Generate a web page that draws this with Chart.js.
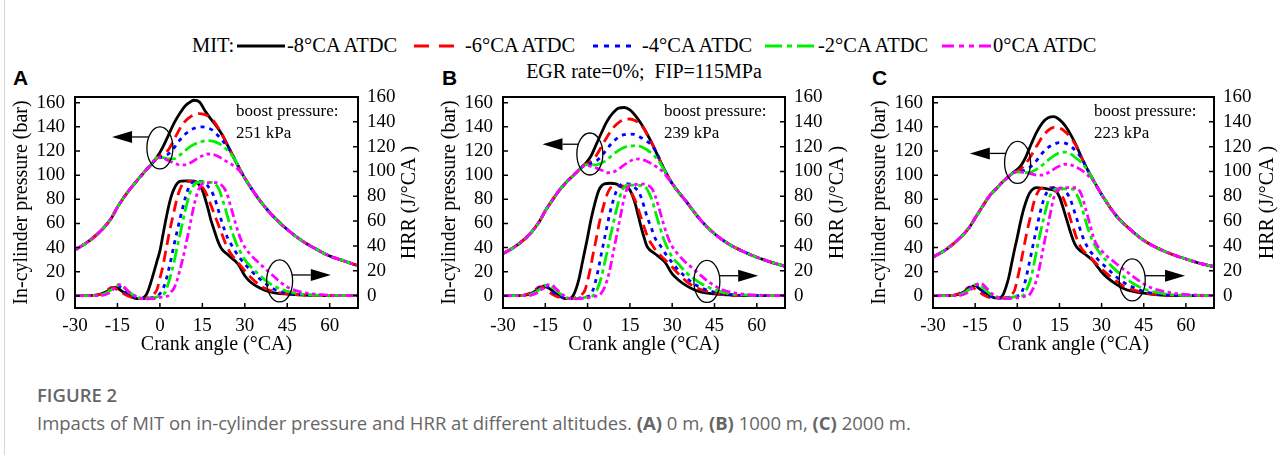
<!DOCTYPE html>
<html>
<head>
<meta charset="utf-8">
<title>Figure 2</title>
<script src="https://cdn.jsdelivr.net/npm/chart.js@4.4.1/dist/chart.umd.min.js"></script>
<style>
  body { margin: 0; background: #fff; }
  #page { position: relative; width: 1287px; height: 455px; overflow: hidden; font-family: 'Liberation Serif', 'Times New Roman', serif; color: #000; }
  .edge { position: absolute; left: 4px; top: 0; width: 1px; height: 455px; background: #d6d6d6; }
  .lg { position: absolute; top: 33px; font-size: 20.5px; line-height: 24px; white-space: nowrap; }
  .lgline { position: absolute; top: 43px; }
  .letter { position: absolute; top: 66px; font: bold 21px 'Liberation Sans', Arial, sans-serif; }
  .egr { position: absolute; left: 644px; top: 60px; transform: translateX(-50%); font-size: 20px; white-space: pre; }
  canvas { position: absolute; top: 88px; }
  .cap-title { position: absolute; left: 37px; top: 382px; font: 600 18.5px 'Open Sans', sans-serif; color: #666; }
  .cap-text { position: absolute; left: 37px; top: 410px; font: 18.5px 'Open Sans', sans-serif; color: #666; white-space: nowrap; }
</style>
</head>
<body>
<div id="page">
  <div class="edge"></div>
  <div id="legend"></div>
  <div class="letter" style="left:13px">A</div>
  <div class="letter" style="left:442px">B</div>
  <div class="letter" style="left:872px">C</div>
  <div class="egr">EGR rate=0%;  FIP=115MPa</div>
  <canvas id="cA" width="430" height="272" style="left:0px"></canvas>
  <canvas id="cB" width="430" height="272" style="left:428px"></canvas>
  <canvas id="cC" width="430" height="272" style="left:858px"></canvas>
  <div class="cap-title">FIGURE 2</div>
  <div class="cap-text">Impacts of MIT on in-cylinder pressure and HRR at different altitudes. <b>(A)</b> 0 m, <b>(B)</b> 1000 m, <b>(C)</b> 2000 m.</div>
</div>
<script>
// оси и подписи
const crankTicks = [-30, -15, 0, 15, 30, 45, 60];
const pressTicks = [0, 20, 40, 60, 80, 100, 120, 140, 160];
const hrrTicks = [0, 20, 40, 60, 80, 100, 120, 140, 160];
const mitLabels = ['-8°CA ATDC', '-6°CA ATDC', '-4°CA ATDC', '-2°CA ATDC', '0°CA ATDC'];
const boostLabels = ['251 kPa', '239 kPa', '223 kPa'];

// давление, панель A (0 м): общий участок сжатия, участки сгорания, общий хвост расширения
const riseA = [[-30,38],[-25,45.5],[-20,56],[-17,65],[-15,73.5],[-12,84],[-10,90],[-7,98.5],[-5,104],[-3,109]];
const tailA = [[30,97.5],[35,80],[40,66],[45,55],[50,46],[55,39],[60,33],[65,29],[70,25]];
const pA_m8 = [[-1,115],[1,123],[3,133],[5,143],[7,151],[9,157.5],[11,161],[12,162],[14,160.5],[16,153],[18,146.5],[20,140.5],[22,133.5],[24,124.5],[26,115],[28,106]];
const pA_m6 = [[-1,114],[1,117],[3,121],[4,125],[6,134],[8,142],[10,147],[12,150],[14,151],[16,150],[18,147.5],[20,141.5],[22,133.5],[24,124.5],[26,115],[28,106]];
const pA_m4 = [[-1,114],[1,115],[3,117.5],[5,122.5],[7,129],[9,134],[11,137.5],[13,139.5],[15,140],[17,139],[19,136.5],[21,131.5],[23,126],[25,119.5],[27,111],[28,106]];
const pA_m2 = [[-1,114.5],[1,114.5],[3,113.5],[5,113.5],[7,116.5],[9,120.5],[11,124],[13,126.5],[15,128],[17,128.5],[19,128],[21,126],[23,122.5],[25,118],[27,111],[28,106]];
const pA_0 = [[-1,114.5],[1,114],[3,112],[5,110],[7,108.5],[9,108.5],[11,110.5],[13,113.5],[15,116],[17,117.5],[19,117],[21,115],[23,112],[25,109.5],[27,106],[28,104]];

// давление, панель B (1000 м)
const riseB = [[-30,35],[-25,42],[-20,52.5],[-17,62],[-15,70.5],[-12,81],[-10,87.5],[-7,95.5],[-5,100],[-3,104.5]];
const tailB = [[30,93],[35,78],[40,63],[45,51.5],[50,43],[55,37],[60,32],[65,28],[70,24.5]];
const pB_m8 = [[-1,109],[1,115],[3,125],[5,135.5],[7,145],[9,151.5],[11,155.5],[13,156],[15,154],[17,149],[19,142.5],[21,134.5],[23,125.5],[25,115.5],[27,105.5]];
const pB_m6 = [[-1,108.5],[1,111],[3,116],[5,124],[7,132],[9,139],[11,143.5],[13,146],[15,146.5],[17,145],[19,141.5],[21,134.5],[23,125.5],[25,115.5],[27,105.5]];
const pB_m4 = [[-1,108.5],[1,109.5],[3,111.5],[5,116],[7,122],[9,127.5],[11,131.5],[13,133.5],[15,134],[17,133.5],[19,131],[21,128],[23,124],[25,116],[27,105.5]];
const pB_m2 = [[-1,108.5],[1,108.5],[3,108.5],[5,110],[7,113],[9,117],[11,120.5],[13,123],[15,124],[17,124.5],[19,123.5],[21,121],[23,117.5],[25,112.5],[27,105]];
const pB_0 = [[-1,108],[1,107.5],[3,106],[5,104],[7,102],[9,102.5],[11,105],[13,108.5],[15,111.5],[17,113.4],[19,113],[21,111.5],[23,109],[25,106],[27,102],[28,99]];

// давление, панель C (2000 м)
const riseC = [[-30,32],[-25,39],[-20,49],[-17,57],[-15,64.5],[-12,75.5],[-10,82.5],[-7,90],[-5,95],[-3,99]];
const tailC = [[30,84],[35,67],[40,55.4],[45,46],[50,39.5],[55,34.5],[60,30.6],[65,27],[70,24.3]];
const pC_m8 = [[-1,103],[1,107],[3,115],[5,126],[7,136],[9,143.5],[11,147.5],[13,148.5],[15,146],[17,141],[19,133.5],[21,124.5],[23,114],[25,104.5],[27,96]];
const pC_m6 = [[-1,102.5],[1,104.5],[3,109.5],[5,116.5],[7,124.5],[9,132],[11,137],[13,139.5],[15,139],[17,136],[19,131],[21,124],[23,114],[25,104.5],[27,96]];
const pC_m4 = [[-1,102.5],[1,103],[3,104.5],[5,107.5],[7,112.5],[9,118.5],[11,123],[13,125.5],[15,127],[17,126.5],[19,124],[21,119.5],[23,113.5],[25,104.5],[27,96]];
const pC_m2 = [[-1,102.5],[1,102.5],[3,102],[5,102.5],[7,105],[9,108.5],[11,112.5],[13,116],[15,118.5],[17,119],[19,117.5],[21,114],[23,110],[25,104],[27,96]];
const pC_0 = [[-1,102.5],[1,102.5],[3,102],[5,101],[7,100],[9,100],[11,102],[13,105],[15,107.5],[17,109],[19,108.5],[21,106.5],[23,104],[25,100],[27,95.5]];

// HRR, панель A
const hA_m8 = [[-30,0],[-25,0],[-22,0.5],[-20,2],[-18,4],[-16,6.5],[-15,6],[-13,3],[-11,0.5],[-9,-2],[-7,-2.5],[-6,-2],[-5,0],[-4,5],[-3,12],[-2,20],[-1,28],[0,36],[1,48],[2,60],[3,71],[4,80],[5,86],[6,90],[7,92],[9,92.5],[11,92.5],[13,91.5],[14,89],[15,85],[16,78],[17,70],[18,61],[19,54],[20,47],[21,41],[22,37],[24,33],[26,29],[27,27],[28,24],[29,20],[30,16],[32,11],[35,6.5],[38,3.5],[41,2],[45,1.2],[50,0.5],[55,0],[70,0]];
const hA_m6 = [[-30,0],[-24,0],[-21,1],[-19,3.5],[-17,6.5],[-16,6],[-14,3],[-12,0.5],[-10,-1.5],[-8,-2.5],[-6,-2.5],[-4,-1.5],[-2,1.5],[-1,5],[0,14],[1,23],[2,35],[3,47],[4,58],[5,68],[6,78],[7,85],[8,90],[9,91.5],[11,92],[13,91],[14,90],[15,87.5],[16,84],[17,79],[18,73],[19,67],[20,61],[21,55],[22,49],[23,43],[24,38],[25,34],[26,31],[28,25.5],[30,20],[32,15],[34,10.7],[37,6],[40,3.5],[45,1.3],[50,0.5],[55,0],[70,0]];
const hA_m4 = [[-30,0],[-23,0],[-20,1.5],[-18,4],[-16,7],[-15,8],[-14,7],[-12,3],[-10,0],[-8,-2],[-6,-2.5],[-4,-2],[-2,-1],[0,1.5],[1,5],[2,11],[3,20],[4,30],[5,41],[6,51],[7,61],[8,70],[9,79],[10,86],[11,90],[12,92],[14,92],[16,91],[17,88],[18,85],[19,80.5],[20,74],[21,66],[22,58.5],[23,52],[24,46],[25,42],[26,38],[28,31],[30,25.5],[32,20.5],[35,14],[38,8.5],[40,5.5],[43,3],[45,2],[50,0.8],[55,0.2],[70,0]];
const hA_m2 = [[-30,0],[-22,0],[-19,2],[-17,5],[-15,8],[-14.5,8.8],[-13,7],[-11,3],[-9,0],[-7,-2],[-5,-2.5],[-3,-2],[-1,-1],[1,0.5],[2,3],[3,10],[4,18],[5,27],[6,38],[7,48],[8,59],[9,69],[10,78],[11,85],[12,89],[13,91],[15,91.5],[19,91],[20,89],[21,85],[22,78],[23,71],[24,63],[25,55],[26,48],[27,42],[28,37],[30,29],[32,23.5],[35,17],[38,11],[40,8],[43,5],[45,3.5],[50,1.2],[55,0.4],[70,0]];
const hA_0 = [[-30,0],[-21,0],[-18,2],[-16,6],[-14.5,8.8],[-13,7.5],[-11,3],[-9,0],[-7,-2],[-5,-2.7],[-3,-2.5],[-1,-2],[1,-1],[3,0],[4,3],[5,6],[6,12],[7,20],[8,29],[9,39],[10,50],[11,61],[12,72],[13,81],[14,87],[15,90],[17,91],[20,91],[21,90],[22,88.5],[23,85.5],[24,80],[25,72],[26,64],[27,56],[28,49],[29,43],[30,39],[32,33],[34,28.5],[37,22],[40,16],[43,10],[45,7],[48,4],[52,2],[57,0.7],[62,0.2],[70,0]];

// HRR, панель B
const hB_m8 = [[-30,0],[-24,0],[-21,1],[-19,3],[-17,6],[-15,8],[-14,6.5],[-12,3],[-10,0],[-8,-2.5],[-6,-2],[-5,0.5],[-4,6],[-3,14],[-2,25],[-1,36],[0,47],[1,59],[2,69],[3,78],[4,85],[5,88.5],[6,90],[8,90.5],[10,90],[11,89],[12,87.5],[13,88],[14,87.5],[15,85],[16,80],[17,73],[18,64],[19,55],[20,47],[21,40],[22,37],[24,33.5],[26,30],[27,28],[28,25],[29,21],[30,17.5],[32,13],[35,8],[38,4.5],[40,3],[45,1.3],[50,0.5],[55,0],[70,0]];
const hB_m6 = [[-30,0],[-24,0],[-21,1.5],[-19,4],[-17,7],[-16,7],[-14,3.5],[-12,0.5],[-10,-1.5],[-8,-2.5],[-6,-2.5],[-4,-1.5],[-2,1],[-1,4],[0,12],[1,22],[2,34],[3,45],[4,57],[5,66.5],[6,75],[7,82],[8,86.5],[9,88],[11,88.5],[13,88],[14,87],[15,85],[16,81],[17,76],[18,69.5],[19,62.5],[20,55.5],[21,49],[22,44],[23,40.5],[24,37],[26,32],[28,27.5],[30,23],[32,18],[35,11.5],[38,7],[40,5],[45,1.9],[50,0.6],[55,0],[70,0]];
const hB_m4 = [[-30,0],[-23,0],[-20,1.5],[-18,4.5],[-16,8],[-15,7.5],[-13,4],[-11,0.5],[-9,-1.5],[-7,-2.5],[-5,-2.5],[-3,-2],[-1,-1],[1,0],[2,5],[3,13],[4,23.5],[5,35],[6,46],[7,57],[8,67.5],[9,76],[10,83],[11,87.5],[12,89.5],[13,90.3],[15,89.8],[16,88.5],[17,86.5],[18,84],[19,79],[20,72],[21,64],[22,58],[23,52],[24,46],[25,42.5],[26,39.5],[28,32.5],[30,26.5],[32,21],[35,14.5],[38,9],[40,6.5],[45,2.7],[50,1],[55,0.2],[70,0]];
const hB_m2 = [[-30,0],[-22,0],[-19,2],[-17,5],[-15,8.2],[-14,8.8],[-12,6],[-10,2],[-8,-1],[-6,-2.5],[-4,-2.5],[-2,-2],[0,-1],[2,0],[3,3],[4,8.5],[5,16],[6,26],[7,36],[8,47],[9,57],[10,67],[11,76],[12,83],[13,87.5],[14,89],[16,89],[18,88.8],[20,88.5],[21,86],[22,81.5],[23,76],[24,68],[25,60],[26,52.5],[27,45.5],[28,40],[30,31],[32,26],[35,18.5],[38,13],[40,10],[43,6.5],[45,4.6],[50,1.6],[55,0.5],[70,0]];
const hB_0 = [[-30,0],[-21,0],[-18,2],[-16,5.5],[-14,8.5],[-13,8.8],[-11,5],[-9,1],[-7,-2],[-5,-2.7],[-3,-2.5],[-1,-2],[1,-1.5],[3,-0.5],[4,0],[5,2.5],[6,6.5],[7,13],[8,22],[9,33.5],[10,45],[11,56.5],[12,68],[13,79],[14,86],[15,89],[17,89.5],[20,89.8],[21,89],[22,88],[23,85.5],[24,80],[25,73],[26,65],[27,57],[28,50],[29,44],[30,39.5],[32,33.5],[34,28.5],[37,22.5],[40,16.5],[43,11],[45,8],[48,4.5],[52,2.2],[57,0.8],[62,0.2],[70,0]];

// HRR, панель C
const hC_m8 = [[-30,0],[-24,0],[-21,1],[-19,3],[-17,6],[-15,8],[-14,6.5],[-12,3],[-10,0.5],[-8,-1.8],[-6,-1.5],[-5,1],[-4,7],[-3,15],[-2,26],[-1,37],[0,47],[1,58],[2,67.5],[3,75],[4,81],[5,84.5],[6,86.5],[7,87],[9,86.5],[11,85.8],[13,85],[14,83.5],[15,79.5],[16,73],[17,65.5],[18,58],[19,50.5],[20,44],[21,39.5],[22,37],[24,33.5],[26,30],[27,28],[28,25],[29,22],[30,19],[32,14.5],[35,9.5],[38,5.5],[40,4],[45,1.9],[50,0.6],[55,0],[70,0]];
const hC_m6 = [[-30,0],[-24,0],[-21,1.5],[-19,4],[-17,6.7],[-16,6.5],[-14,3.5],[-12,0.5],[-10,-1.5],[-8,-2],[-6,-2],[-4,-1.5],[-2,1],[-1,4],[0,13],[1,23.5],[2,35],[3,46.5],[4,57],[5,66.5],[6,76],[7,82],[8,85.8],[9,86.5],[11,87],[13,86.8],[14,86],[15,83.5],[16,80],[17,75],[18,68.5],[19,61],[20,54],[21,47],[22,41.5],[23,37.5],[24,35],[26,31],[28,26],[30,21.5],[32,17.5],[35,12],[38,7.5],[40,5.5],[45,2.4],[50,0.8],[55,0.2],[70,0]];
const hC_m4 = [[-30,0],[-23,0],[-20,1.5],[-18,4.5],[-16,8.5],[-15,8.5],[-13,5],[-11,1],[-9,-1],[-7,-2],[-5,-2],[-3,-1.5],[-1,-0.5],[1,0.2],[2,5],[3,13],[4,23.5],[5,34],[6,45],[7,55.5],[8,65.7],[9,74.5],[10,81],[11,84.5],[12,86.3],[13,87],[15,86.5],[16,86],[17,84],[18,81.5],[19,77],[20,70],[21,63],[22,56],[23,49],[24,43.5],[25,39],[26,35.5],[28,30.8],[30,26],[32,22],[35,15.5],[38,10.5],[40,8],[43,5],[45,3.5],[50,1.2],[55,0.3],[70,0]];
const hC_m2 = [[-30,0],[-22,0],[-19,2],[-17,5],[-15,8.8],[-14,9.2],[-12,6],[-10,2],[-8,-0.5],[-6,-2],[-4,-2],[-2,-1.5],[0,-0.5],[2,0],[3,3.5],[4,8.5],[5,15.5],[6,26],[7,38],[8,48.5],[9,58.5],[10,68],[11,76.5],[12,82],[13,85],[14,86],[16,86],[18,85.8],[20,85.5],[21,82],[22,77.5],[23,71],[24,63],[25,55],[26,48.5],[27,43],[28,39],[30,32.5],[32,27.5],[35,20.5],[38,15],[40,11.5],[43,7.5],[45,5.4],[50,2.3],[55,0.7],[70,0]];
const hC_0 = [[-30,0],[-21,0],[-18,2],[-16,6],[-14,9.5],[-13,10],[-11,6],[-9,1.5],[-7,-1.5],[-5,-2.5],[-3,-2.5],[-1,-2],[1,-1.5],[3,-0.5],[4,0],[5,3],[6,7.5],[7,14],[8,24],[9,35.5],[10,47],[11,57.6],[12,69],[13,79],[14,84.5],[15,86.5],[17,87],[19,87],[21,87],[22,85],[23,80.5],[24,72.5],[25,64.5],[26,56],[27,48],[28,42],[29,38.5],[30,36.2],[32,31.5],[34,28],[37,22.5],[40,17.4],[43,12.5],[45,9.4],[48,6],[52,3.5],[57,1.5],[62,0.6],[70,0]];

// стили линий: -8, -6, -4, -2, 0
const lineColors = ['#000000', '#ff0000', '#0000ff', '#00f000', '#ff00ff'];
const lineDash = [[], [11, 6], [4, 5], [14, 4, 4, 4], [9, 3.5, 3.5, 3.5, 3.5, 3.5]];
const legendDash = ['', '15 10', '5 6', '17 5 5 5', '12 5 5 5 5 5'];

Chart.defaults.font.family = "'Liberation Serif', 'Times New Roman', serif";
Chart.defaults.color = '#000';

// легенда сверху (HTML)
function buildLegend() {
  const el = document.getElementById('legend');
  const textX = [287, 465, 642, 818, 993];
  const sample = [[237, 285], [414, 455], [593, 632], [765, 817], [942, 992]];
  let html = '<div class="lg" style="left:192px">MIT:</div>';
  mitLabels.forEach((lab, i) => {
    const w = sample[i][1] - sample[i][0];
    html += `<svg class="lgline" style="left:${sample[i][0]}px" width="${w}" height="6">
      <line x1="0" y1="3" x2="${w}" y2="3" stroke="${lineColors[i]}" stroke-width="3" stroke-dasharray="${legendDash[i]}"/></svg>`;
    html += `<div class="lg" style="left:${textX[i]}px">${lab}</div>`;
  });
  el.innerHTML = html;
}
buildLegend();

// рамка, внутренние засечки, эллипсы со стрелками, подписи
const framePlugin = {
  id: 'frame',
  afterDatasetsDraw(chart, args, opts) {
    const { ctx, chartArea: a, scales } = chart;
    const sx = scales.x, sy = scales.y, s2 = scales.y2;
    ctx.save();
    ctx.strokeStyle = '#000';
    ctx.fillStyle = '#000';
    ctx.lineWidth = 2;
    ctx.strokeRect(a.left, a.top, a.right - a.left, a.bottom - a.top);

    ctx.lineWidth = 1.5;
    ctx.beginPath();
    pressTicks.forEach(v => { const y = sy.getPixelForValue(v); ctx.moveTo(a.left, y); ctx.lineTo(a.left + 5, y); });
    hrrTicks.forEach(v => { const y = s2.getPixelForValue(v); ctx.moveTo(a.right, y); ctx.lineTo(a.right - 5, y); });
    crankTicks.slice(1).forEach(v => { const x = sx.getPixelForValue(v); ctx.moveTo(x, a.bottom); ctx.lineTo(x, a.bottom - 5); });
    ctx.stroke();

    const marks = [
      { e: opts.ell1, ys: sy, dir: -1 },
      { e: opts.ell2, ys: s2, dir: 1 },
    ];
    ctx.lineWidth = 1.3;
    marks.forEach(({ e, ys, dir }) => {
      const cx = sx.getPixelForValue(e.x), cy = ys.getPixelForValue(e.y);
      const rx = 13, ry = 21;
      ctx.beginPath();
      ctx.ellipse(cx, cy, rx, ry, 0, 0, Math.PI * 2);
      ctx.stroke();
      const ay = ys.getPixelForValue(e.arrowY);
      const dy = Math.min(1, Math.abs(ay - cy) / ry);
      const x0 = cx + dir * rx * Math.sqrt(1 - dy * dy);
      const tip = sx.getPixelForValue(e.tipX);
      const head = 20;
      ctx.beginPath();
      ctx.moveTo(x0, ay);
      ctx.lineTo(tip - dir * head, ay);
      ctx.stroke();
      ctx.beginPath();
      ctx.moveTo(tip, ay);
      ctx.lineTo(tip - dir * head, ay - 6);
      ctx.lineTo(tip - dir * head, ay + 6);
      ctx.closePath();
      ctx.fill();
    });

    ctx.font = "17px 'Liberation Serif', serif";
    ctx.textBaseline = 'middle';
    ctx.textAlign = 'left';
    ctx.fillText('boost pressure:', a.left + 161, a.top + 15);
    ctx.fillText(opts.boost, a.left + 161, a.top + 37);

    ctx.font = "20px 'Liberation Serif', serif";
    ctx.textAlign = 'center';
    ctx.translate(chart.width - 20, (a.top + a.bottom) / 2);
    ctx.rotate(-Math.PI / 2);
    ctx.fillText('HRR (J/°CA )', 0, 0);
    ctx.restore();
  }
};

// без автоматических отступов под подписи — область графика ставим сами
function fixY(width) {
  return s => { s.width = width; s.paddingTop = 0; s.paddingBottom = 0; };
}

function makePanel(id, boxW, press, hrr, extra) {
  const mk = (data, i, axis) => ({
    data: data,
    yAxisID: axis,
    borderColor: lineColors[i],
    borderDash: lineDash[i],
    borderWidth: 2.8,
    pointRadius: 0,
    fill: false,
    cubicInterpolationMode: 'monotone',
    order: 5 - i,
  });
  const datasets = press.map((d, i) => mk(d, i, 'y')).concat(hrr.map((d, i) => mk(d, i, 'y2')));

  new Chart(document.getElementById(id), {
    type: 'line',
    data: { datasets },
    plugins: [framePlugin],
    options: {
      responsive: false,
      animation: false,
      devicePixelRatio: 1,
      parsing: { xAxisKey: 0, yAxisKey: 1 },
      layout: { padding: { top: 9, left: 0, right: 0, bottom: 0 } },
      plugins: {
        legend: { display: false },
        tooltip: { enabled: false },
        frame: extra,
      },
      scales: {
        x: {
          type: 'linear', position: 'bottom', min: -30, max: 70,
          afterBuildTicks: s => { s.ticks = crankTicks.map(v => ({ value: v })); },
          afterFit: s => { s.height = 52; s.paddingLeft = 0; s.paddingRight = 0; },
          grid: { display: false, drawTicks: false },
          border: { display: false },
          ticks: { font: { size: 19 }, padding: 7, maxRotation: 0, autoSkip: false },
          title: { display: true, text: 'Crank angle (°CA)', font: { size: 20 }, padding: { top: 0, bottom: 3 } },
        },
        y: {
          type: 'linear', position: 'left', min: -10, max: 164.7,
          afterBuildTicks: s => { s.ticks = pressTicks.map(v => ({ value: v })); },
          afterFit: fixY(75),
          grid: { display: false, drawTicks: false },
          border: { display: false },
          ticks: { font: { size: 19 }, padding: 10, autoSkip: false },
          title: { display: true, text: 'In-cylinder pressure (bar)', font: { size: 20 }, padding: { top: 10, bottom: 0 } },
        },
        y2: {
          type: 'linear', position: 'right', min: -10, max: 160,
          afterBuildTicks: s => { s.ticks = hrrTicks.map(v => ({ value: v })); },
          afterFit: fixY(430 - 75 - boxW),
          grid: { display: false, drawTicks: false },
          border: { display: false },
          ticks: { font: { size: 19 }, padding: 9, autoSkip: false },
        },
      },
    },
  });
}

makePanel('cA', 283,
  [pA_m8, pA_m6, pA_m4, pA_m2, pA_0].map(m => riseA.concat(m, tailA)),
  [hA_m8, hA_m6, hA_m4, hA_m2, hA_0],
  { boost: boostLabels[0],
    ell1: { x: 0, y: 122.5, arrowY: 131.6, tipX: -16.9 },
    ell2: { x: 42.3, y: 11.8, arrowY: 16.6, tipX: 60.4 } });

makePanel('cB', 282,
  [pB_m8, pB_m6, pB_m4, pB_m2, pB_0].map(m => riseB.concat(m, tailB)),
  [hB_m8, hB_m6, hB_m4, hB_m2, hB_0],
  { boost: boostLabels[1],
    ell1: { x: 0.8, y: 117.5, arrowY: 125.6, tipX: -16 },
    ell2: { x: 42.3, y: 11.4, arrowY: 16, tipX: 60.5 } });

makePanel('cC', 281,
  [pC_m8, pC_m6, pC_m4, pC_m2, pC_0].map(m => riseC.concat(m, tailC)),
  [hC_m8, hC_m6, hC_m4, hC_m2, hC_0],
  { boost: boostLabels[2],
    ell1: { x: 0.1, y: 110.5, arrowY: 118, tipX: -16.9 },
    ell2: { x: 40.9, y: 12.6, arrowY: 16, tipX: 59.7 } });
</script>
</body>
</html>
